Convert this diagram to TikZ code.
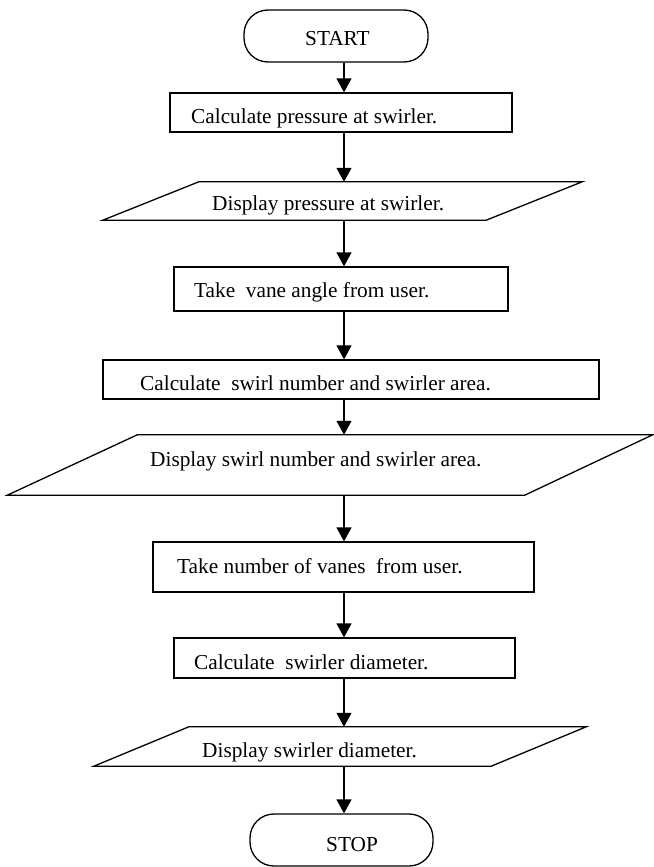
\documentclass[tikz,border=0pt]{standalone}
\usepackage{fontspec}
\setmainfont{Liberation Serif}
\usetikzlibrary{arrows.meta}
\tikzset{
  termbox/.style={draw, line width=1.3pt, rounded corners=24pt, minimum width=184pt, minimum height=52pt, inner sep=0pt},
  procbox/.style={draw, line width=1.3pt, inner sep=0pt},
  iobox/.style={inner sep=0pt},
  ioline/.style={line width=1.3pt, line join=miter},
  lbl/.style={anchor=base west, inner sep=0pt, font=\fontsize{21.3}{25}\selectfont},
  flow/.style={line width=1.3pt, -{Triangle[width=15pt,length=14pt]}}
}
\begin{document}
\begin{tikzpicture}[x=1pt, y=-1pt]
\useasboundingbox (0,0) rectangle (653,867);
\coordinate (axis) at (344,0);

% shapes
\node[termbox] at (336,36) (start) {};
\node[procbox, minimum width=342pt, minimum height=39pt] at (341,112.5) (b1) {};
\node[iobox, minimum width=479pt, minimum height=38pt] at (342.5,201) (p1) {};
\node[procbox, minimum width=334pt, minimum height=44pt] at (341,289) (b2) {};
\node[procbox, minimum width=496pt, minimum height=39pt] at (351,379.5) (b3) {};
\node[iobox, minimum width=645pt, minimum height=60pt] at (330,465) (p2) {};
\node[procbox, minimum width=381pt, minimum height=50pt] at (343.5,567) (b4) {};
\node[procbox, minimum width=341pt, minimum height=40pt] at (344.5,658) (b5) {};
\node[iobox, minimum width=492pt, minimum height=39pt] at (340,746.5) (p3) {};
\node[termbox, minimum width=183pt] at (341.5,840) (stop) {};

% slanted outlines of the display boxes
\draw[ioline] ([xshift=96pt]p1.north west) -- (p1.north east) -- ([xshift=-96pt]p1.south east) -- (p1.south west) -- cycle;
\draw[ioline] ([xshift=130pt]p2.north west) -- (p2.north east) -- ([xshift=-128pt]p2.south east) -- (p2.south west) -- cycle;
\draw[ioline] ([xshift=95pt]p3.north west) -- (p3.north east) -- ([xshift=-95pt]p3.south east) -- (p3.south west) -- cycle;

% texts
\node[lbl] at (305,46) (tstart) {START};
\node[lbl] at (191,123) (tb1) {Calculate pressure at swirler.};
\node[lbl] at (212,210) (tp1) {Display pressure at swirler.};
\node[lbl] at (194,297) (tb2) {Take\ \ vane angle from user.};
\node[lbl] at (140,390) (tb3) {Calculate\ \ swirl number and swirler area.};
\node[lbl] at (150,466) (tp2) {Display swirl number and swirler area.};
\node[lbl] at (177,573) (tb4) {Take number of vanes\ \ from user.};
\node[lbl] at (194,669) (tb5) {Calculate\ \ swirler diameter.};
\node[lbl] at (202,757) (tp3) {Display swirler diameter.};
\node[lbl] at (326,851) (tstop) {STOP};

% flow
\draw[flow] (start.south -| axis) -- (b1.north -| axis);
\draw[flow] (b1.south -| axis) -- (p1.north -| axis);
\draw[flow] (p1.south -| axis) -- (b2.north -| axis);
\draw[flow] (b2.south -| axis) -- (b3.north -| axis);
\draw[flow] (b3.south -| axis) -- (p2.north -| axis);
\draw[flow] (p2.south -| axis) -- (b4.north -| axis);
\draw[flow] (b4.south -| axis) -- (b5.north -| axis);
\draw[flow] (b5.south -| axis) -- (p3.north -| axis);
\draw[flow] (p3.south -| axis) -- (stop.north -| axis);
\end{tikzpicture}
\end{document}
